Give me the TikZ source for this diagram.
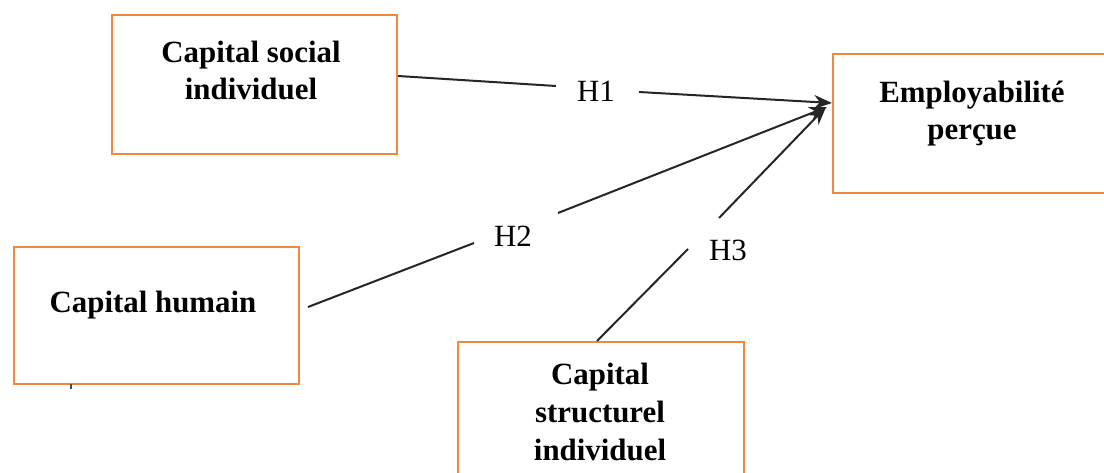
\documentclass[tikz,border=0pt]{standalone}
\usepackage{fontspec}
\setmainfont{Liberation Serif}
\usetikzlibrary{arrows.meta}
\definecolor{boxorange}{HTML}{F0883E}
\begin{document}
\begin{tikzpicture}[x=1bp,y=-1bp,
  box/.style={draw=boxorange, line width=2bp, rectangle, inner sep=0pt, anchor=north west},
  lbl/.style={font=\fontsize{31}{38}\selectfont\bfseries, align=center, anchor=base, inner sep=0pt},
  hyp/.style={font=\fontsize{31}{36}\selectfont, inner sep=0pt},
  link/.style={line width=2bp, draw=black!85},
  tip/.style={link, -{Stealth[length=18bp, width=14bp]}}]
\useasboundingbox (0,0) rectangle (1104,473);
\fill[white] (0,0) rectangle (1104,473);
% boxes
\node[box, minimum width=285bp, minimum height=139bp] (csi) at (111,14) {};
\node[box, minimum width=290bp, minimum height=139bp] (ep) at (832,53) {};
\node[box, minimum width=285bp, minimum height=137bp] (ch) at (13,246) {};
\node[box, minimum width=286bp, minimum height=150bp] (cs) at (457,341) {};
% texts (anchor = baseline of last line)
\node[lbl] (csi-t) at (251,100) {Capital social\\individuel};
\node[lbl] (ep-t) at (972,140) {Employabilité\\perçue};
\node[lbl] (ch-t) at (153,313) {Capital humain};
\node[lbl] (cs-t) at (600,460) {Capital\\structurel\\individuel};
% hypotheses
\node[hyp] (h1) at (596,91) {H1};
\node[hyp] (h2) at (513,236) {H2};
\node[hyp] (h3) at (728,250) {H3};
% connector points
\coordinate (s1) at (csi.east |- 0,76);
\coordinate (g1a) at (556,86);
\coordinate (g1b) at (639,92);
\coordinate (e1) at (ep.west |- 0,103);
\coordinate (s2) at (308,307);
\coordinate (g2a) at (474,243);
\coordinate (g2b) at (558,213);
\coordinate (e2) at (827,107);
\coordinate (s3) at (cs.north west -| 597,0);
\coordinate (g3a) at (688,249);
\coordinate (g3b) at (719,218);
\coordinate (e3) at (826,107);
% connectors
\draw[link] (s1) -- (g1a);
\draw[tip] (g1b) -- (e1);
\draw[link] (s2) -- (g2a);
\draw[tip] (g2b) -- (e2);
\draw[link] (s3) -- (g3a);
\draw[tip] (g3b) -- (e3);
% small stray mark
\draw[line width=2bp, black!70] (71,384) -- (71,389);
\end{tikzpicture}
\end{document}
